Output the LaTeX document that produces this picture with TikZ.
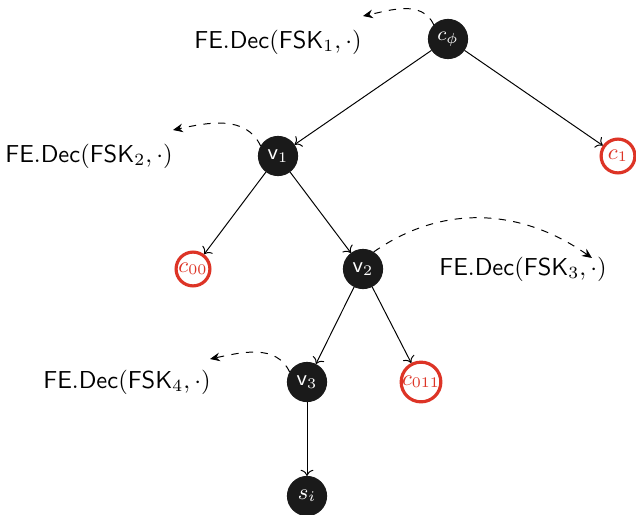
\documentclass[tikz,border=0pt]{standalone}
\usetikzlibrary{arrows.meta}
\definecolor{leafred}{RGB}{221,52,38}
\definecolor{nodeblack}{RGB}{26,26,26}
\begin{document}
\begin{tikzpicture}[x=0.408pt,y=-0.408pt,
  inner/.style={circle,fill=nodeblack,draw=nodeblack,text=white,minimum size=16pt,inner sep=0pt,font=\small},
  leaf/.style={circle,draw=leafred,line width=1.3pt,text=leafred,minimum size=13.8pt,inner sep=0pt,font=\small},
  edge/.style={->,line width=0.4pt},
  decarc/.style={dashed,line width=0.4pt,-{Stealth[length=4pt,width=3.5pt]}},
  declabel/.style={inner sep=0pt}]
\useasboundingbox (0,0) rectangle (636,514);

% tree nodes
\node[inner,font=\footnotesize] (cphi) at (448,39) {$c_\phi$};
\node[inner] (v1)   at (278,156) {$\mathsf{v}_1$};
\node[leaf]  (c1)   at (618,156) {$c_1$};
\node[leaf]  (c00)  at (193,269) {$c_{00}$};
\node[inner] (v2)   at (363,269) {$\mathsf{v}_2$};
\node[inner] (v3)   at (307,382) {$\mathsf{v}_3$};
\node[leaf]  (c011) at (421,382) {$c_{011}$};
\node[inner] (si)   at (307,496) {$s_i$};

% tree edges
\draw[edge] (cphi) -- (v1);
\draw[edge] (cphi) -- (c1);
\draw[edge] (v1) -- (c00);
\draw[edge] (v1) -- (v2);
\draw[edge] (v2) -- (v3);
\draw[edge] (v2) -- (c011);
\draw[edge] (v3) -- (si);

% decryption labels
\node[declabel] (d1) at (278,42)  {$\mathsf{FE.Dec}(\mathsf{FSK}_1,\cdot)$};
\node[declabel] (d2) at (89,156)  {$\mathsf{FE.Dec}(\mathsf{FSK}_2,\cdot)$};
\node[declabel] (d3) at (523,269) {$\mathsf{FE.Dec}(\mathsf{FSK}_3,\cdot)$};
\node[declabel] (d4) at (127,382) {$\mathsf{FE.Dec}(\mathsf{FSK}_4,\cdot)$};

% arc end points
\coordinate (e1) at (363,16);
\coordinate (e2) at (173,130);
\coordinate (e3) at (592,258);
\coordinate (e4) at (210,359);

% dashed arcs
\draw[decarc] (cphi.135) to[out=115,in=12] (e1);
\draw[decarc] (v1.150) to[out=115,in=12] (e2);
\draw[decarc] (v2.58) to[out=35,in=145] (e3);
\draw[decarc] (v3.150) to[out=115,in=12] (e4);
\end{tikzpicture}
\end{document}
